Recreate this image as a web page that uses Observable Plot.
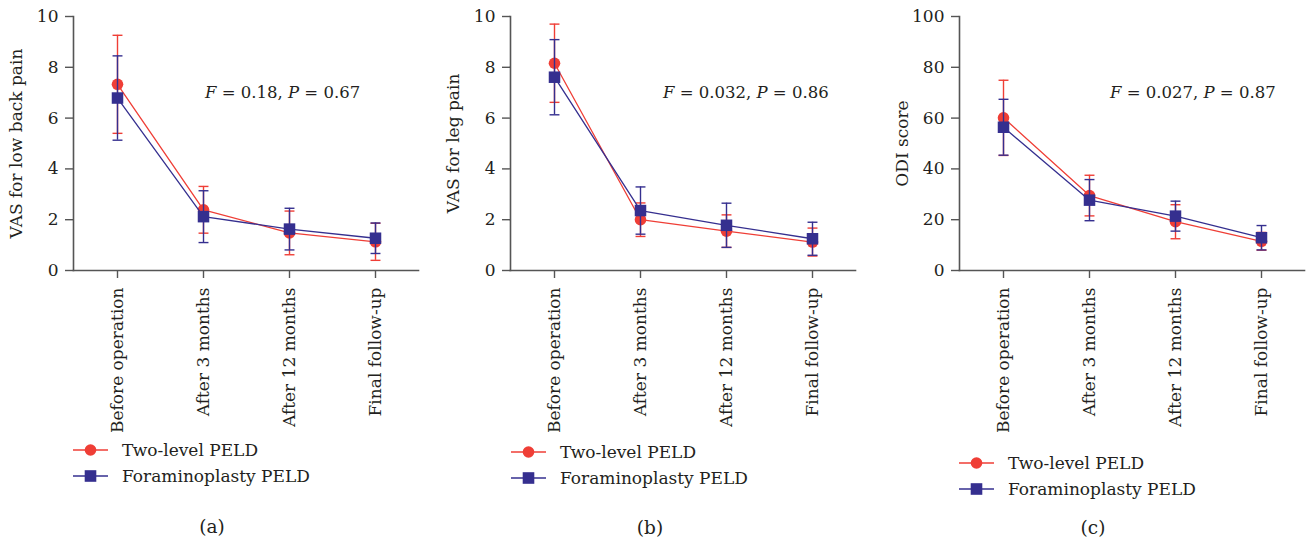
<!DOCTYPE html>
<html><head><meta charset="utf-8">
<script src="https://cdn.jsdelivr.net/npm/d3@7"></script>
<script src="https://cdn.jsdelivr.net/npm/@observablehq/plot@0.6"></script>
<style>
body{margin:0;background:#fff;}
#wrap{position:relative;width:1307px;height:544px;font-family:"DejaVu Serif";color:#231f20;overflow:hidden;}
.panel{position:absolute;top:0;}
.stat{position:absolute;font-size:16.5px;white-space:nowrap;line-height:20px;}
.legend{position:absolute;font-size:17px;}
.legend .row{display:flex;align-items:center;height:26px;white-space:nowrap;}
.legend svg{margin-right:14px;}
.cap{position:absolute;font-size:18.5px;line-height:20px;transform:translateX(-50%);}
</style></head><body><div id="wrap"></div>
<script>
const categories = ["Before operation", "After 3 months", "After 12 months", "Final follow-up"];
const groups = ["Two-level PELD", "Foraminoplasty PELD"];

// (a) VAS for low back pain
const backTwoMean = [7.33, 2.39, 1.48, 1.13];
const backTwoSd   = [1.93, 0.92, 0.86, 0.73];
const backForaMean = [6.79, 2.12, 1.63, 1.27];
const backForaSd   = [1.66, 1.02, 0.82, 0.60];

// (b) VAS for leg pain
const legTwoMean = [8.16, 2.00, 1.55, 1.12];
const legTwoSd   = [1.54, 0.66, 0.64, 0.55];
const legForaMean = [7.61, 2.36, 1.78, 1.25];
const legForaSd   = [1.48, 0.93, 0.87, 0.65];

// (c) ODI score
const odiTwoMean = [60.1, 29.5, 19.2, 11.5];
const odiTwoSd   = [14.8, 8.0, 6.7, 3.5];
const odiForaMean = [56.4, 27.7, 21.4, 12.9];
const odiForaSd   = [11.0, 8.1, 5.9, 4.8];

const yTicks10 = [0, 2, 4, 6, 8, 10];
const yTicks100 = [0, 20, 40, 60, 80, 100];

const stats = [["0.18", "0.67"], ["0.032", "0.86"], ["0.027", "0.87"]];
const captions = ["(a)", "(b)", "(c)"];

const FONT = "'DejaVu Serif'";
const RED = "#ef3e36", BLUE = "#352f8f", AXIS = "#555555", TEXT = "#231f20";
const capSymbol = {draw(ctx, size) { const w = Math.sqrt(size) / 2; ctx.moveTo(-w, 0); ctx.lineTo(w, 0); }};

function rowsOf(group, mean, sd) {
  return categories.map((c, i) => ({time: c, group, mean: mean[i], sd: sd[i]}));
}

function seriesMarks(rows, color, symbol, r) {
  return [
    Plot.ruleX(rows, {x: "time", y1: d => d.mean - d.sd, y2: d => d.mean + d.sd, stroke: color, strokeWidth: 1.4}),
    Plot.dot(rows, {x: "time", y: d => d.mean + d.sd, symbol: capSymbol, r: 5.6, stroke: color, fill: "none", strokeWidth: 1.4}),
    Plot.dot(rows, {x: "time", y: d => d.mean - d.sd, symbol: capSymbol, r: 5.6, stroke: color, fill: "none", strokeWidth: 1.4}),
    Plot.line(rows, {x: "time", y: "mean", stroke: color, strokeWidth: 1.3}),
    Plot.dot(rows, {x: "time", y: "mean", symbol, r, fill: color, stroke: "none"})
  ];
}

const layout = [
  {left: 0, width: 430, mL: 73, mR: 12, statLeft: 205, legLeft: 73, legTop: 437, capX: 212},
  {left: 430, width: 430, mL: 80, mR: 5, statLeft: 233, legLeft: 81, legTop: 439, capX: 220},
  {left: 860, width: 447, mL: 99, mR: 3, statLeft: 250, legLeft: 99, legTop: 450, capX: 233}
];
const panels = [
  {yMax: 10, ticks: yTicks10, label: "VAS for low back pain", two: [backTwoMean, backTwoSd], fora: [backForaMean, backForaSd]},
  {yMax: 10, ticks: yTicks10, label: "VAS for leg pain", two: [legTwoMean, legTwoSd], fora: [legForaMean, legForaSd]},
  {yMax: 100, ticks: yTicks100, label: "ODI score", two: [odiTwoMean, odiTwoSd], fora: [odiForaMean, odiForaSd]}
];

const wrap = document.getElementById("wrap");

panels.forEach((p, k) => {
  const L = layout[k];
  const div = document.createElement("div");
  div.className = "panel";
  div.style.left = L.left + "px";
  div.style.width = L.width + "px";
  div.style.height = "544px";
  wrap.appendChild(div);

  const chart = Plot.plot({
    width: L.width,
    height: 440,
    marginLeft: L.mL,
    marginRight: L.mR,
    marginTop: 16,
    marginBottom: 170,
    style: {fontFamily: FONT, fontSize: "17px", color: TEXT, background: "transparent", overflow: "visible"},
    x: {type: "point", domain: categories, padding: 0.5},
    y: {domain: [0, p.yMax]},
    marks: [
      Plot.axisY({ticks: p.ticks, tickSize: 8, tickPadding: 7, stroke: AXIS, strokeWidth: 1.4, fill: TEXT,
        label: p.label, labelAnchor: "center", labelArrow: "none", labelOffset: 64}),
      Plot.axisX({tickSize: 8, tickPadding: 9, tickRotate: -90, stroke: AXIS, strokeWidth: 1.4, fill: TEXT, label: null}),
      Plot.frame({anchor: "left", stroke: AXIS, strokeWidth: 1.6}),
      Plot.frame({anchor: "bottom", stroke: AXIS, strokeWidth: 1.6}),
      ...seriesMarks(rowsOf(groups[0], p.two[0], p.two[1]), RED, "circle", 5.8),
      ...seriesMarks(rowsOf(groups[1], p.fora[0], p.fora[1]), BLUE, "square", 6.5)
    ]
  });
  chart.style.position = "absolute";
  chart.style.left = "0px";
  chart.style.top = "0px";
  div.appendChild(chart);

  const st = document.createElement("div");
  st.className = "stat";
  st.style.left = L.statLeft + "px";
  st.style.top = "83px";
  st.innerHTML = `<i>F</i> = ${stats[k][0]}, <i>P</i> = ${stats[k][1]}`;
  div.appendChild(st);

  const leg = document.createElement("div");
  leg.className = "legend";
  leg.style.left = L.legLeft + "px";
  leg.style.top = L.legTop + "px";
  const sw = [
    `<svg width="35" height="16"><line x1="0" x2="35" y1="8" y2="8" stroke="${RED}" stroke-width="1.3"/><circle cx="17.5" cy="8" r="5.8" fill="${RED}"/></svg>`,
    `<svg width="35" height="16"><line x1="0" x2="35" y1="8" y2="8" stroke="${BLUE}" stroke-width="1.3"/><rect x="11.7" y="2.2" width="11.6" height="11.6" fill="${BLUE}"/></svg>`
  ];
  leg.innerHTML = groups.map((g, i) => `<div class="row">${sw[i]}<span>${g}</span></div>`).join("");
  div.appendChild(leg);

  const cap = document.createElement("div");
  cap.className = "cap";
  cap.style.left = L.capX + "px";
  cap.style.top = (k === 0 ? 517 : 518) + "px";
  cap.textContent = captions[k];
  div.appendChild(cap);
});
</script>
</body></html>
